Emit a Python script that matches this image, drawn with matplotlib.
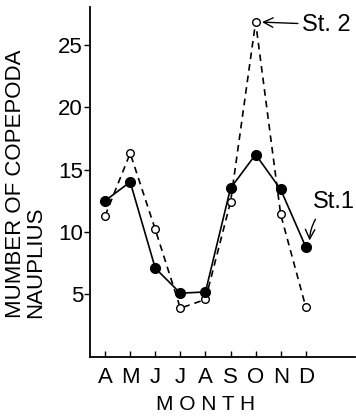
import numpy as np
import matplotlib.pyplot as plt

months = ['A', 'M', 'J', 'J', 'A', 'S', 'O', 'N', 'D']
st1 = [12.5, 14.0, 7.1, 5.1, 5.2, 13.5, 16.2, 13.4, 8.8]
st2 = [11.3, 16.3, 10.2, 3.9, 4.6, 12.4, 26.8, 11.4, 4.0]
yticks = [5, 10, 15, 20, 25]

plt.rcParams['font.family'] = ['Liberation Sans', 'DejaVu Sans']

x = np.arange(len(months))

fig = plt.figure(figsize=(3.56, 4.16), dpi=100)
ax = fig.add_axes([0.253, 0.142, 0.744, 0.841])

ax.plot(x, st2, color='black', lw=1.2, ls=(0, (4, 3)), marker='o', ms=5.5,
        mfc='white', mec='black', mew=1.0, zorder=2)
ax.plot(x, st1, color='black', lw=1.2, marker='o', ms=7,
        mfc='black', mec='black', zorder=3)

ax.set_xlim(-0.6, 9.96)
ax.set_ylim(0, 28)
ax.set_xticks(x)
ax.set_xticklabels(months)
ax.set_yticks(yticks)

for s in ['top', 'right']:
    ax.spines[s].set_visible(False)
ax.spines['left'].set_linewidth(1.3)
ax.spines['bottom'].set_linewidth(1.3)

ax.tick_params(axis='x', direction='in', length=4, width=1, labelsize=16, pad=7)
ax.tick_params(axis='y', direction='out', length=4, width=1, labelsize=16, pad=1)

ax.set_xlabel('M O N T H', fontsize=15)
ax.xaxis.label.set_verticalalignment('center')
ax.xaxis.set_label_coords(0.435, -0.137)

fig.text(0.072, 0.236, 'MUMBER OF COPEPODA\nNAUPLIUS', rotation=90,
         ha='center', va='bottom', multialignment='left', fontsize=16,
         linespacing=0.95)

ax.annotate('St. 2', xy=(x[6] + 0.2, st2[6]), xytext=(7.85, st2[6] - 0.2),
            fontsize=17, va='center', ha='left',
            arrowprops=dict(arrowstyle='->', color='black', lw=1.0,
                            shrinkA=1, shrinkB=1))
ax.annotate('St.1', xy=(x[8] + 0.15, st1[8] + 0.3), xytext=(8.3, 12.4),
            fontsize=17, va='center', ha='left',
            arrowprops=dict(arrowstyle='->', color='black', lw=1.0,
                            connectionstyle='arc3,rad=0.3',
                            shrinkA=3, shrinkB=2))

plt.savefig('out.png', dpi=100)
